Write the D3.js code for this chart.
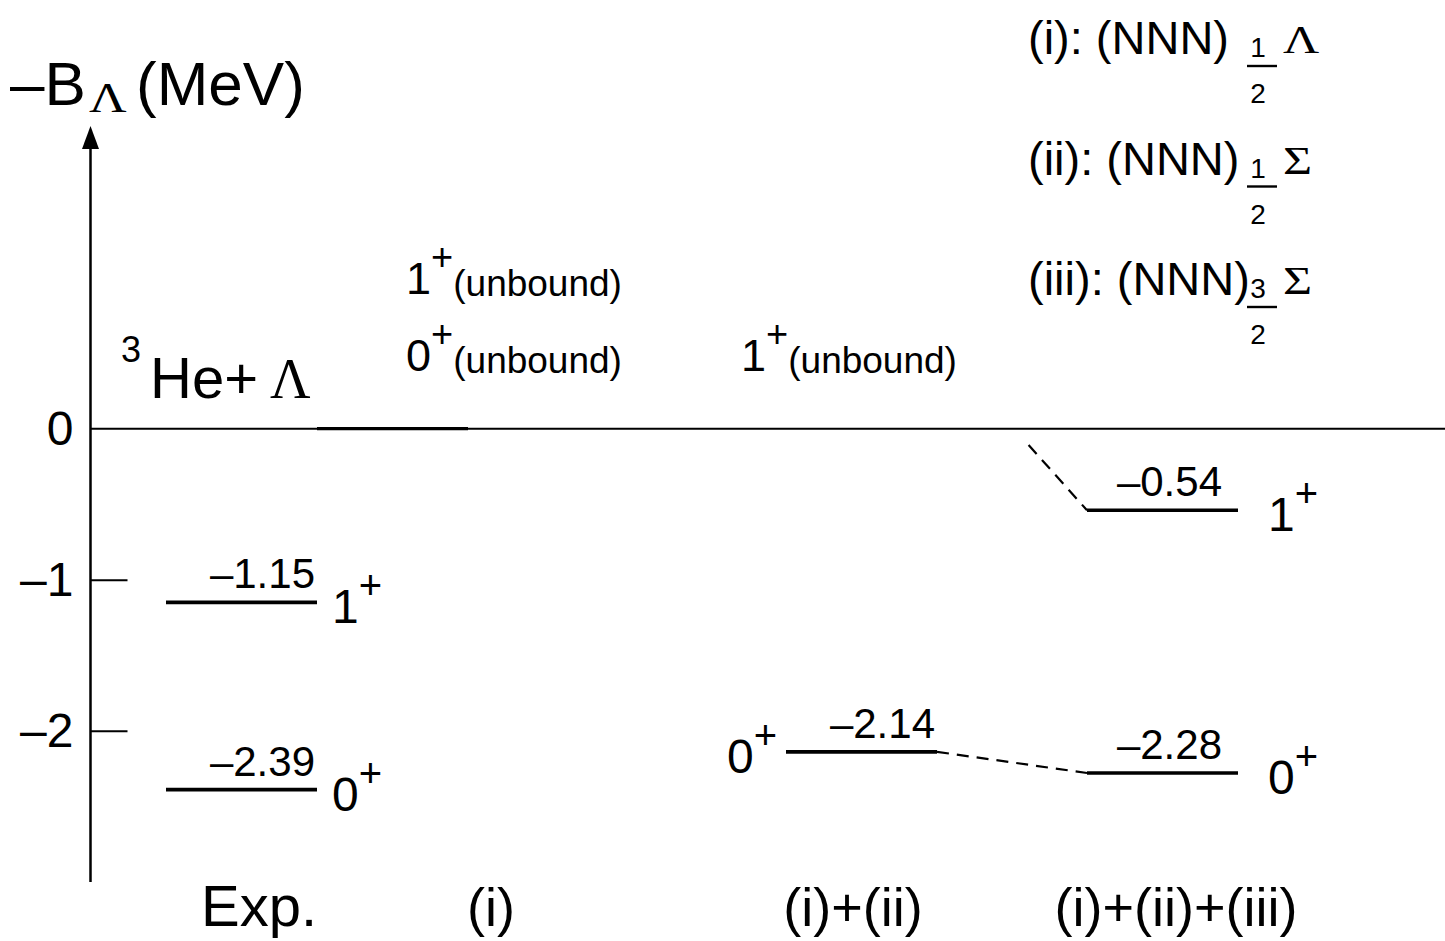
<!DOCTYPE html>
<html>
<head>
<meta charset="utf-8">
<script src="https://cdn.jsdelivr.net/npm/d3@7"></script>
<style>
  html, body { margin: 0; padding: 0; background: #fff; }
  svg text { font-family: "Liberation Sans", Arial, Helvetica, sans-serif; fill: #000; }
  .greek { font-family: "Liberation Serif", "Times New Roman", serif; }
</style>
</head>
<body>
<svg id="chart" width="1445" height="941"></svg>
<script>
// --- DATA ---
const columns = ["Exp.", "(i)", "(i)+(ii)", "(i)+(ii)+(iii)"];
const yTicks = [0, -1, -2];

// bound levels
const levelColumn = ["Exp.", "Exp.", "(i)+(ii)", "(i)+(ii)+(iii)", "(i)+(ii)+(iii)"];
const levelEnergy = [-1.15, -2.39, -2.14, -0.54, -2.28];
const levelSpin = ["1", "0", "0", "1", "0"];

// unbound states (sit on the threshold)
const unboundColumn = ["(i)", "(i)", "(i)+(ii)"];
const unboundSpin = ["1", "0", "1"];
const unboundStack = [1, 0, 0];

// dashed correlation lines [fromColumn, fromE, toColumn, toE]
const links = [
  ["(i)+(ii)", -2.14, "(i)+(ii)+(iii)", -2.28],
  ["(i)+(ii)", 0, "(i)+(ii)+(iii)", -0.54]
];

const legendKeys = ["(i): (NNN)", "(ii): (NNN)", "(iii): (NNN)"];
const legendNum = ["1", "1", "3"];
const legendGreek = ["\u039B", "\u03A3", "\u03A3"];

// --- LAYOUT ---
const LEVEL_W = 151;
const AXIS_X = 90.5;
const dash = s => s.replace("\u2212", "\u2013").replace("-", "\u2013");

const svg = d3.select("#chart");

const y = d3.scaleLinear().domain([0, -2]).range([428.7, 730.7]);
// left edge of the level lines in each column
const xCol = d3.scaleOrdinal().domain(columns).range([166, 317, 786, 1087]);
// centre of the column captions at the bottom
const xCap = d3.scaleOrdinal().domain(columns).range([259, 491, 853, 1176]);
// spin label: side and gap, value label inset
const spinSide = d3.scaleOrdinal().domain(columns).range(["right", "right", "left", "right"]);
const spinGap = d3.scaleOrdinal().domain(columns).range([15, 15, 9, 30]);
const valueInset = d3.scaleOrdinal().domain(columns).range([2, 2, 2, 16]);
// left edge of the "(unbound)" labels
const xUnbound = d3.scaleOrdinal().domain(["(i)", "(i)+(ii)"]).range([406, 741]);

const fmt = d3.format(".2f");

// squat serif greek letter, like the Symbol font of the original
function greek(sel, x, yb, size, sy, ch) {
  return sel.append("text").attr("class", "greek")
    .attr("transform", `translate(${x},${yb}) scale(1,${sy})`)
    .style("font-size", size + "px").text(ch);
}

// --- AXIS ---
const axis = d3.axisLeft(y)
  .tickValues(yTicks)
  .tickSize(-37)
  .tickPadding(17)
  .tickFormat(d => dash(d3.format("d")(d)));

const ax = svg.append("g")
  .attr("transform", `translate(${AXIS_X},0)`)
  .call(axis);
ax.select(".domain").remove();
ax.selectAll(".tick line").attr("stroke", "#000").attr("stroke-width", 2)
  .filter(d => d === 0).remove();
ax.selectAll(".tick text")
  .style("font-size", "48px")
  .attr("font-family", null);

// vertical axis with arrow
svg.append("line")
  .attr("x1", AXIS_X).attr("x2", AXIS_X)
  .attr("y1", 882).attr("y2", 146)
  .attr("stroke", "#000").attr("stroke-width", 2.5);
svg.append("path")
  .attr("d", `M${AXIS_X},126 L${AXIS_X - 8.5},149 L${AXIS_X + 8.5},149 Z`)
  .attr("fill", "#000");

// threshold line
svg.append("line")
  .attr("x1", AXIS_X).attr("x2", 1445)
  .attr("y1", y(0)).attr("y2", y(0))
  .attr("stroke", "#000").attr("stroke-width", 2);

// (i): both states unbound -> thick segment on the threshold
svg.append("line")
  .attr("x1", xCol("(i)")).attr("x2", xCol("(i)") + LEVEL_W)
  .attr("y1", y(0)).attr("y2", y(0))
  .attr("stroke", "#000").attr("stroke-width", 3.2);

// title
const title = svg.append("g");
title.append("text").attr("x", 10).attr("y", 105)
  .style("font-size", "62px").text("\u2013B");
greek(title, 89, 112, 52, 0.8, "\u039B");
title.append("text").attr("x", 136).attr("y", 105)
  .style("font-size", "62px").text("(MeV)");

// 3He + Lambda
svg.append("text").attr("x", 121).attr("y", 362)
  .style("font-size", "36px").text("3");
svg.append("text").attr("x", 150).attr("y", 398)
  .style("font-size", "58px").text("He+");
greek(svg, 270, 398, 56, 1, "\u039B");

// --- DASHED LINKS ---
svg.selectAll(".link").data(links).enter().append("line")
  .attr("class", "link")
  .each(function(d) {
    let x0 = xCol(d[0]) + LEVEL_W, y0 = y(d[1]);
    const x1 = xCol(d[2]), y1 = y(d[3]);
    if (d[1] === 0) {
      // from the threshold, leaving a gap under the line
      x0 = x1 - 73;
      const t = 0.2;
      x0 = x0 + (x1 - x0) * t;
      y0 = y0 + (y1 - y0) * t;
    }
    d3.select(this).attr("x1", x0).attr("y1", y0).attr("x2", x1).attr("y2", y1);
  })
  .attr("stroke", "#000").attr("stroke-width", 2.2)
  .attr("stroke-dasharray", "12,8");

// --- LEVELS ---
const levels = levelEnergy.map((e, i) => ({ col: levelColumn[i], e, spin: levelSpin[i] }));

svg.selectAll(".level").data(levels).enter().append("line")
  .attr("class", "level")
  .attr("x1", d => xCol(d.col)).attr("x2", d => xCol(d.col) + LEVEL_W)
  .attr("y1", d => y(d.e)).attr("y2", d => y(d.e))
  .attr("stroke", "#000").attr("stroke-width", 3.6);

svg.selectAll(".val").data(levels).enter().append("text")
  .attr("class", "val")
  .attr("x", d => xCol(d.col) + LEVEL_W - valueInset(d.col))
  .attr("y", d => y(d.e) - 14)
  .attr("text-anchor", "end")
  .style("font-size", "42px")
  .text(d => dash(fmt(d.e)));

const spins = svg.selectAll(".spin").data(levels).enter().append("text")
  .attr("class", "spin")
  .attr("x", d => spinSide(d.col) === "right"
    ? xCol(d.col) + LEVEL_W + spinGap(d.col)
    : xCol(d.col) - spinGap(d.col))
  .attr("y", d => y(d.e) + 21)
  .attr("text-anchor", d => spinSide(d.col) === "right" ? "start" : "end")
  .style("font-size", "48px");
spins.append("tspan").text(d => d.spin);
spins.append("tspan").attr("dy", -24).style("font-size", "40px").text("+");

// unbound labels
const unbound = unboundColumn.map((c, i) => ({ col: c, spin: unboundSpin[i], k: unboundStack[i] }));
const ub = svg.selectAll(".unbound").data(unbound).enter().append("text")
  .attr("class", "unbound")
  .attr("x", d => xUnbound(d.col))
  .attr("y", d => y(0) - 58 - d.k * 77)
  .style("font-size", "45px");
ub.append("tspan").text(d => d.spin);
ub.append("tspan").attr("dy", -24).style("font-size", "38px").text("+");
ub.append("tspan").attr("dy", 26).style("font-size", "37px").text("(unbound)");

// column captions
svg.selectAll(".cap").data(columns).enter().append("text")
  .attr("class", "cap")
  .attr("x", d => xCap(d))
  .attr("y", 926)
  .attr("text-anchor", "middle")
  .style("font-size", d => d === "Exp." ? "58px" : "54px")
  .text(d => d);

// --- LEGEND ---
const lg = svg.append("g");
legendKeys.forEach((k, i) => {
  const base = 54 + i * 120.5;
  lg.append("text").attr("x", 1028).attr("y", base)
    .style("font-size", "47px").text(k);
  lg.append("text").attr("x", 1258).attr("y", base + 3)
    .attr("text-anchor", "middle")
    .style("font-size", "28px").text(legendNum[i]);
  lg.append("line")
    .attr("x1", 1247).attr("x2", 1277)
    .attr("y1", base + 12).attr("y2", base + 12)
    .attr("stroke", "#000").attr("stroke-width", 2.4);
  lg.append("text").attr("x", 1258).attr("y", base + 49)
    .attr("text-anchor", "middle")
    .style("font-size", "28px").text("2");
  greek(lg, 1283, base - 1, 50, 0.8, legendGreek[i]);
});
</script>
</body>
</html>
